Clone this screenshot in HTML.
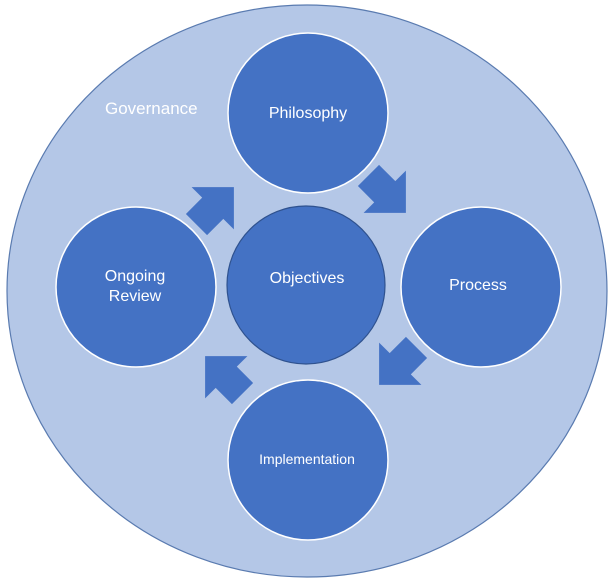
<!DOCTYPE html>
<html><head><meta charset="utf-8"><style>
html,body{margin:0;padding:0;background:#fff;width:611px;height:579px;overflow:hidden}
svg{display:block}
text{font-family:"Liberation Sans",sans-serif;fill:#fff}
</style></head><body>
<svg width="611" height="579" viewBox="0 0 611 579">
<defs>
<polygon id="ar" points="22,0 -4,-26 -4,-13 -24,-13 -24,13 -4,13 -4,26" fill="#4472c4"/>
</defs>
<ellipse cx="307" cy="291" rx="300" ry="286" fill="#b4c7e7" stroke="#5a7bb0" stroke-width="1.2"/>
<text x="105" y="114" font-size="17">Governance</text>
<g stroke="#fff" stroke-width="1.5" fill="#4472c4">
<circle cx="308" cy="113" r="80"/>
<circle cx="136" cy="287" r="80"/>
<circle cx="481" cy="287" r="80"/>
<circle cx="308" cy="460" r="80"/>
</g>
<circle cx="306" cy="285" r="79" fill="#4472c4" stroke="#2f528f" stroke-width="1.2"/>
<use href="#ar" transform="translate(216,205) rotate(-45) scale(1.15)"/>
<use href="#ar" transform="translate(388,195) rotate(45) scale(1.15)"/>
<use href="#ar" transform="translate(397,367) rotate(135) scale(1.15)"/>
<use href="#ar" transform="translate(223,374) rotate(-135) scale(1.15)"/>
<g font-size="16" text-anchor="middle">
<text x="308" y="118">Philosophy</text>
<text x="307" y="283">Objectives</text>
<text x="478" y="290">Process</text>
<text x="135" y="281">Ongoing</text>
<text x="135" y="301">Review</text>
<text x="307" y="464" font-size="14">Implementation</text>
</g>
</svg>
</body></html>
